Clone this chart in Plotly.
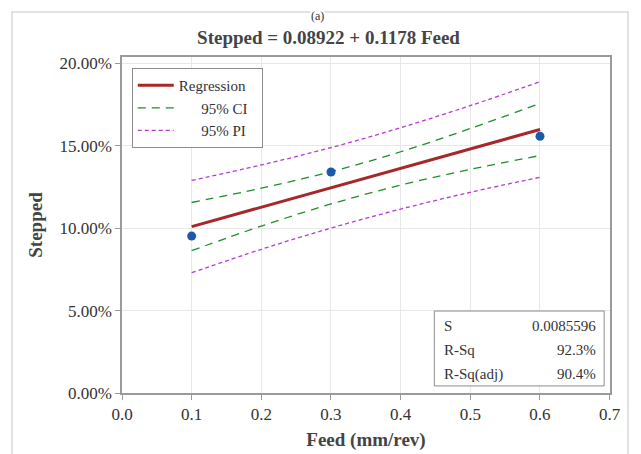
import plotly.graph_objects as go

# Data
feed = [0.1, 0.3, 0.6]
stepped = [0.0952, 0.1341, 0.1558]

intercept = 0.08922
slope = 0.1178

band_x = [0.1, 0.2, 0.3, 0.4, 0.5, 0.6]
ci_upper = [0.1156, 0.1243, 0.1343, 0.1464, 0.1605, 0.1757]
ci_lower = [0.0864, 0.1013, 0.1147, 0.1262, 0.1357, 0.1441]
pi_upper = [0.1290, 0.1384, 0.1489, 0.1610, 0.1744, 0.1889]
pi_lower = [0.0730, 0.0872, 0.1001, 0.1116, 0.1218, 0.1309]

stat_names = ["S", "R-Sq", "R-Sq(adj)"]
stat_values = ["0.0085596", "92.3%", "90.4%"]

x_ticks = [0.0, 0.1, 0.2, 0.3, 0.4, 0.5, 0.6, 0.7]
y_ticks = [0.0, 0.05, 0.10, 0.15, 0.20]

SERIF = "Liberation Serif, Times New Roman, serif"
RED = "#a8282a"
GREEN = "#1f8f2a"
PURPLE = "#b43cd2"
BLUE = "#1a5aa8"
NB = "\u00a0"

reg_x = [band_x[0], band_x[-1]]
reg_y = [intercept + slope * v for v in reg_x]

fig = go.Figure()
fig.add_trace(go.Scatter(x=reg_x, y=reg_y, mode="lines", name="Regression" + NB * 3,
                         line=dict(color=RED, width=3)))
fig.add_trace(go.Scatter(x=band_x, y=ci_upper, mode="lines", name=NB * 6 + "95% CI",
                         line=dict(color=GREEN, width=1.3, dash="8px,6px", shape="spline")))
fig.add_trace(go.Scatter(x=band_x, y=ci_lower, mode="lines", showlegend=False,
                         line=dict(color=GREEN, width=1.3, dash="8px,6px", shape="spline")))
fig.add_trace(go.Scatter(x=band_x, y=pi_upper, mode="lines", name=NB * 6 + "95% PI",
                         line=dict(color=PURPLE, width=1.3, dash="4px,3px", shape="spline")))
fig.add_trace(go.Scatter(x=band_x, y=pi_lower, mode="lines", showlegend=False,
                         line=dict(color=PURPLE, width=1.3, dash="4px,3px", shape="spline")))
fig.add_trace(go.Scatter(x=feed, y=stepped, mode="markers", showlegend=False,
                         marker=dict(color=BLUE, size=9)))

# outer frame of the figure
fig.add_shape(type="rect", xref="paper", yref="paper",
              x0=-0.2254, x1=1.0369, y0=-0.30, y1=1.134,
              line=dict(color="#d9d9d9", width=1.5), layer="below")

# stats box
fig.add_shape(type="rect", xref="paper", yref="paper",
              x0=0.640, x1=0.988, y0=0.021, y1=0.244,
              line=dict(color="#8c8c8c", width=1), fillcolor="white")
ys = [0.200, 0.128, 0.056]
for name, val, yy in zip(stat_names, stat_values, ys):
    fig.add_annotation(x=0.655, y=yy, xref="paper", yref="paper", text=name,
                       showarrow=False, xanchor="left", yanchor="middle",
                       font=dict(family=SERIF, size=15, color="#333333"))
    fig.add_annotation(x=0.975, y=yy, xref="paper", yref="paper", text=val,
                       showarrow=False, xanchor="right", yanchor="middle",
                       font=dict(family=SERIF, size=15, color="#333333"))

fig.add_annotation(x=0.4016, y=1.1458, xref="paper", yref="paper", text="(a)",
                   showarrow=False, xanchor="center", yanchor="top",
                   bgcolor="white", borderpad=0,
                   font=dict(family=SERIF, size=12, color="#333333"))

fig.update_layout(
    width=641, height=454,
    margin=dict(l=114, r=39, t=49, b=69),
    paper_bgcolor="white", plot_bgcolor="white",
    title=dict(text="<b>Stepped = 0.08922 + 0.1178 Feed</b>", x=0.5, xanchor="center",
               xref="container", y=0.936, yanchor="middle",
               font=dict(family=SERIF, size=19, color="#444444")),
    legend=dict(x=0.02, y=0.967, xanchor="left", yanchor="top",
                bordercolor="#8c8c8c", borderwidth=1, bgcolor="white",
                font=dict(family=SERIF, size=15, color="#333333"),
                tracegroupgap=0, itemwidth=36),
    showlegend=True,
)
fig.update_xaxes(range=[0, 0.7005], tickvals=x_ticks, tickformat=".1f",
                 showgrid=True, gridcolor="#e8e8e8", gridwidth=1,
                 showline=True, linecolor="#9a9a9a", linewidth=1.5, mirror=True,
                 ticks="outside", ticklen=5, tickcolor="#9a9a9a",
                 zeroline=False,
                 tickfont=dict(family=SERIF, size=17, color="#333333"),
                 title=dict(text="<b>Feed (mm/rev)</b>", standoff=10,
                            font=dict(family=SERIF, size=19, color="#444444")))
fig.update_yaxes(range=[0, 0.2039], tickvals=y_ticks, tickformat=".2%",
                 showgrid=True, gridcolor="#e8e8e8", gridwidth=1,
                 showline=True, linecolor="#9a9a9a", linewidth=1.5, mirror=True,
                 ticks="outside", ticklen=5, tickcolor="#9a9a9a",
                 zeroline=False,
                 tickfont=dict(family=SERIF, size=17, color="#333333"),
                 title=dict(text="<b>Stepped</b>", standoff=12,
                            font=dict(family=SERIF, size=19, color="#444444")))

fig.write_html("out.html")
